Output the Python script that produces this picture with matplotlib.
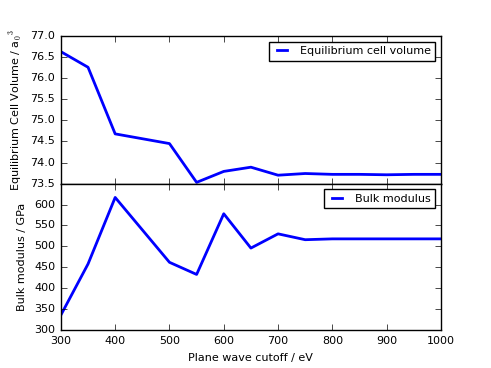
import matplotlib
matplotlib.use('Agg')
import matplotlib.pyplot as plt

plt.style.use('classic')
plt.rcParams['font.size'] = 8

cutoff = [300, 350, 400, 500, 550, 600, 650, 700, 750, 800, 850, 900, 950, 1000]
volume = [76.63, 76.26, 74.68, 74.45, 73.53, 73.79, 73.89, 73.70, 73.74, 73.72,
          73.72, 73.71, 73.72, 73.72]
bulk = [336, 458, 617, 462, 433, 578, 496, 530, 516, 518, 518, 518, 518, 518]

fig = plt.figure(figsize=(4.91, 3.68), dpi=100)
fig.patch.set_facecolor('white')

ax1 = fig.add_axes([0.124, 0.501, 0.774, 0.401])
ax2 = fig.add_axes([0.124, 0.103, 0.774, 0.398], sharex=ax1)

ax1.plot(cutoff, volume, color='blue', lw=2, label='Equilibrium cell volume')
ax1.set_ylim(73.5, 77.0)
ax1.set_yticks([73.5, 74.0, 74.5, 75.0, 75.5, 76.0, 76.5, 77.0])
ax1.set_ylabel('Equilibrium Cell Volume / a$_0$$^3$')
ax1.legend(loc='upper right', fontsize=8, handlelength=1.5, handletextpad=0.9)
plt.setp(ax1.get_xticklabels(), visible=False)

ax2.plot(cutoff, bulk, color='blue', lw=2, label='Bulk modulus')
ax2.set_ylim(300, 650)
ax2.set_yticks([300, 350, 400, 450, 500, 550, 600])
ax2.set_xlim(300, 1000)
ax2.set_ylabel('Bulk modulus / GPa')
ax2.set_xlabel('Plane wave cutoff / eV')
ax2.legend(loc='upper right', fontsize=8, handlelength=1.5, handletextpad=0.9)

fig.savefig('out.png', dpi=100, facecolor='white')
